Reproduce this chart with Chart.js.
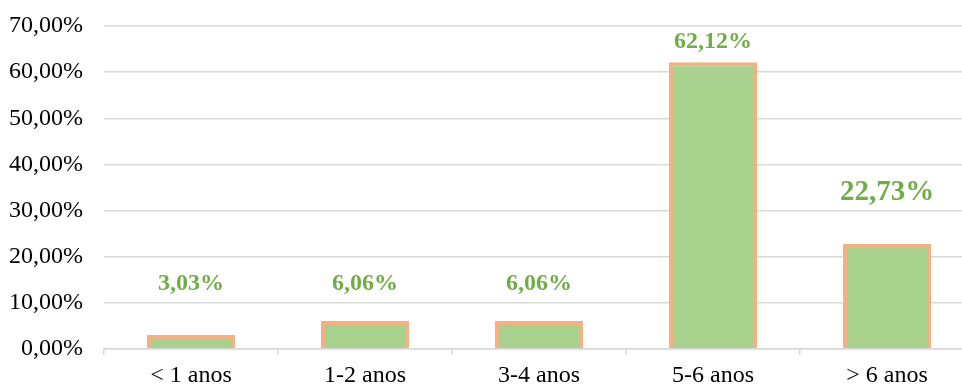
<!DOCTYPE html>
<html>
<head>
<meta charset="utf-8">
<script src="https://cdn.jsdelivr.net/npm/chart.js@4/dist/chart.umd.min.js"></script>
<style>
  html, body { margin: 0; padding: 0; background: #fff; overflow: hidden; }
  #wrap { position: absolute; left: 0; top: 0; width: 975px; height: 387px; }
</style>
</head>
<body>
<div id="wrap"><canvas id="grafico"></canvas></div>
<script>
// faixas de tempo e percentuais
const categorias = ['< 1 anos', '1-2 anos', '3-4 anos', '5-6 anos', '> 6 anos'];
const percentuais = [3.03, 6.06, 6.06, 62.12, 22.73];
const ticksY = [0, 10, 20, 30, 40, 50, 60, 70];

// rótulos de valor: quanto sobem acima da barra e tamanho da fonte
const rotuloSobe = [45, 31, 31, 14, 44];
const rotuloFonte = [24, 24, 24, 24, 29];

const fmt = v => v.toFixed(2).replace('.', ',') + '%';
const serif = '"Liberation Serif", "Times New Roman", serif';

const rotulosPlugin = {
  id: 'rotulos',
  afterDatasetsDraw(chart) {
    const ctx = chart.ctx;
    const meta = chart.getDatasetMeta(0);
    ctx.save();
    ctx.fillStyle = '#70ad47';
    ctx.textAlign = 'center';
    ctx.textBaseline = 'alphabetic';
    meta.data.forEach((bar, i) => {
      ctx.font = 'bold ' + rotuloFonte[i] + 'px ' + serif;
      ctx.fillText(fmt(percentuais[i]), bar.x, bar.y - rotuloSobe[i]);
    });
    ctx.restore();
  }
};

new Chart(document.getElementById('grafico'), {
  type: 'bar',
  data: {
    labels: categorias,
    datasets: [{
      data: percentuais,
      backgroundColor: '#a9d18e',
      borderColor: '#f4b183',
      borderWidth: 4,
      barPercentage: 0.506,
      categoryPercentage: 1
    }]
  },
  options: {
    responsive: true,
    maintainAspectRatio: false,
    animation: false,
    layout: { padding: { top: 0, right: 1, left: 0, bottom: 0 } },
    plugins: { legend: { display: false }, tooltip: { enabled: false } },
    scales: {
      x: {
        grid: {
          offset: true,
          drawOnChartArea: false,
          color: '#d9d9d9',
          lineWidth: 1.5,
          tickLength: 6
        },
        border: { color: '#d9d9d9', width: 1.5 },
        ticks: {
          color: '#000',
          padding: 6,
          font: { family: serif, size: 24 }
        },
        afterFit(scale) { scale.height = 38; }
      },
      y: {
        min: 0,
        max: 70,
        afterBuildTicks(scale) { scale.ticks = ticksY.map(v => ({ value: v })); },
        grid: { color: '#d9d9d9', lineWidth: 1.5, drawTicks: false },
        border: { display: false },
        ticks: {
          color: '#000',
          padding: 21,
          callback: v => fmt(v),
          font: { family: serif, size: 24 }
        },
        afterFit(scale) { scale.width = 104; scale.paddingTop = 26; }
      }
    }
  },
  plugins: [rotulosPlugin]
});
</script>
</body>
</html>
